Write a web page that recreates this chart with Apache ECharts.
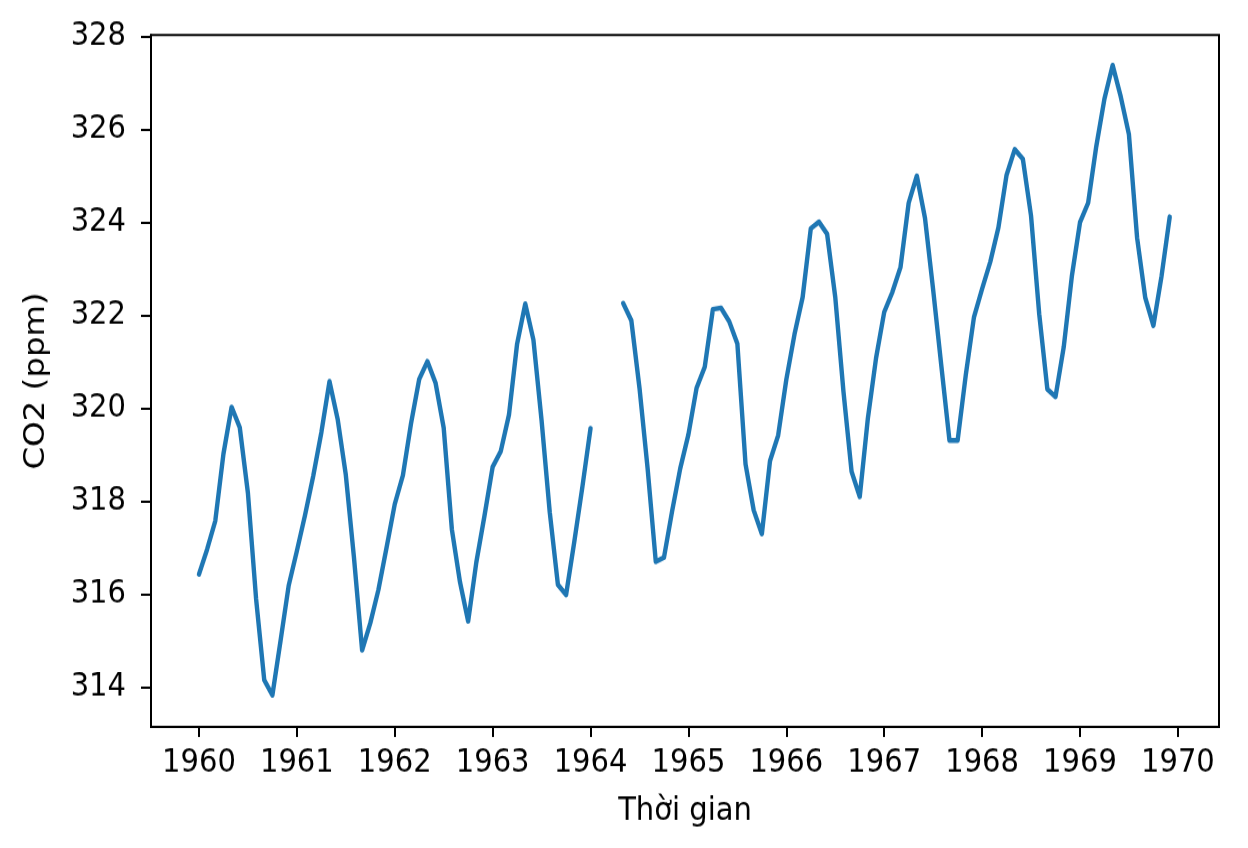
<!DOCTYPE html>
<html>
<head>
    <meta charset="utf-8">
    <script src="https://cdn.jsdelivr.net/npm/echarts@6/dist/echarts.min.js"></script>
    <style>
        html, body { margin: 0; padding: 0; background: #fff; }
        #wrap { width: 1248px; height: 848px; position: relative; background: #fff; }
        /* reference image is slightly stretched vertically, so the chart is drawn short and scaled up */
        #main { position: absolute; left: 0; top: 0; width: 1248px; height: 757px;
                transform: scaleY(1.12); transform-origin: 0 0; }
    </style>
</head>
<body>
<div id="wrap"><div id="main"></div></div>
<script type="text/javascript">
    // Mauna Loa CO2, monthly values (ppm), Jan..Dec, null = missing
    var years = [1960, 1961, 1962, 1963, 1964, 1965, 1966, 1967, 1968, 1969];
    var co2_1960 = [316.43, 316.97, 317.58, 319.02, 320.03, 319.59, 318.18, 315.91, 314.16, 313.83, 315.00, 316.19];
    var co2_1961 = [316.93, 317.70, 318.54, 319.48, 320.58, 319.77, 318.57, 316.79, 314.80, 315.38, 316.10, 317.01];
    var co2_1962 = [317.94, 318.56, 319.68, 320.63, 321.01, 320.55, 319.58, 317.40, 316.26, 315.42, 316.69, 317.69];
    var co2_1963 = [318.74, 319.08, 319.86, 321.39, 322.25, 321.47, 319.74, 317.77, 316.21, 315.99, 317.12, 318.31];
    var co2_1964 = [319.57, null, null, null, 322.26, 321.89, 320.44, 318.70, 316.70, 316.79, 317.79, 318.71];
    var co2_1965 = [319.44, 320.44, 320.89, 322.13, 322.16, 321.87, 321.39, 318.80, 317.81, 317.30, 318.87, 319.42];
    var co2_1966 = [320.62, 321.59, 322.39, 323.87, 324.01, 323.75, 322.39, 320.37, 318.64, 318.10, 319.79, 321.08];
    var co2_1967 = [322.07, 322.50, 323.04, 324.42, 325.00, 324.09, 322.55, 320.92, 319.31, 319.31, 320.72, 321.96];
    var co2_1968 = [322.57, 323.15, 323.89, 325.02, 325.57, 325.36, 324.14, 322.03, 320.41, 320.25, 321.31, 322.84];
    var co2_1969 = [324.00, 324.42, 325.64, 326.66, 327.38, 326.70, 325.89, 323.67, 322.38, 321.78, 322.85, 324.12];
    var xTicks = [1960, 1961, 1962, 1963, 1964, 1965, 1966, 1967, 1968, 1969, 1970];
    var yTicks = [314, 316, 318, 320, 322, 324, 326, 328];

    var allYears = [co2_1960, co2_1961, co2_1962, co2_1963, co2_1964,
                    co2_1965, co2_1966, co2_1967, co2_1968, co2_1969];
    var points = [];
    for (var i = 0; i < years.length; i++) {
        for (var m = 0; m < 12; m++) {
            var v = allYears[i][m];
            points.push([years[i] + m / 12, v === null ? null : v]);
        }
    }

    var font = 'DejaVu Sans';
    var sy = 1.12; // vertical stretch, see css
    var gTop = 35 / sy, gBottom = 121 / sy;
    var myChart = echarts.init(document.getElementById('main'));
    var option = {
        animation: false,
        backgroundColor: '#ffffff',
        grid: { left: 151, right: 29, top: gTop, bottom: gBottom, containLabel: false },
        xAxis: {
            type: 'value',
            min: 1959.51,
            max: 1970.42,
            name: 'Thời gian',
            nameLocation: 'middle',
            nameGap: 61,
            nameTextStyle: { fontFamily: font, fontSize: 29, color: '#000' },
            axisLine: { show: true, onZero: false, lineStyle: { color: '#000', width: 2 } },
            axisTick: { show: true, inside: false, length: 9, customValues: xTicks,
                        lineStyle: { color: '#000', width: 2 } },
            axisLabel: { customValues: xTicks, margin: 18, fontFamily: font, fontSize: 29, color: '#000',
                         formatter: function (v) { return String(Math.round(v)); } },
            splitLine: { show: false }
        },
        yAxis: {
            type: 'value',
            min: 313.15,
            max: 328.03,
            name: 'CO2 (ppm)',
            nameLocation: 'middle',
            nameGap: 100,
            nameTextStyle: { fontFamily: font, fontSize: 29, color: '#000' },
            axisLine: { show: true, onZero: false, lineStyle: { color: '#000', width: 2 } },
            axisTick: { show: true, inside: false, length: 10, customValues: yTicks,
                        lineStyle: { color: '#000', width: 2 } },
            axisLabel: { customValues: yTicks, margin: 25, fontFamily: font, fontSize: 29, color: '#000',
                         formatter: function (v) { return String(Math.round(v)); } },
            splitLine: { show: false }
        },
        series: [{
            type: 'line',
            data: points,
            showSymbol: false,
            connectNulls: false,
            lineStyle: { color: '#1f77b4', width: 4.4, cap: 'round', join: 'round' },
            itemStyle: { color: '#1f77b4' }
        }],
        graphic: [{
            type: 'rect',
            shape: { x: 151, y: gTop, width: 1248 - 151 - 29, height: 757 - gTop - gBottom },
            style: { fill: 'none', stroke: '#000', lineWidth: 2 },
            silent: true,
            z: 10
        }]
    };
    myChart.setOption(option);
</script>
</body>
</html>
